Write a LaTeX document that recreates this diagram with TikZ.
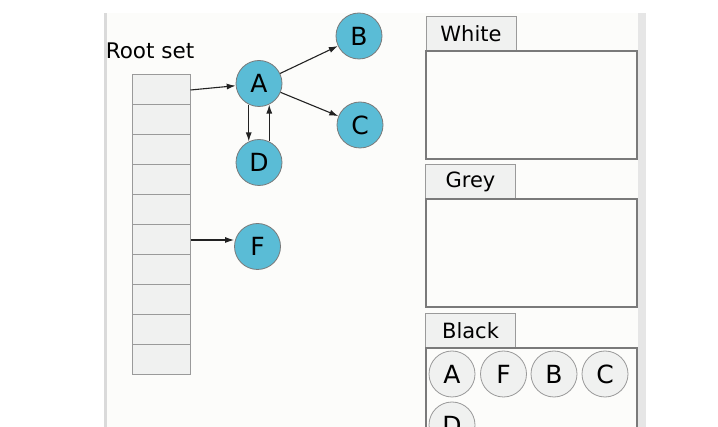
\documentclass[tikz,border=0pt]{standalone}
\usepackage{fontspec}
\setmainfont{DejaVu Sans}
\usetikzlibrary{arrows.meta}
\definecolor{nodeblue}{HTML}{5ABCD6}
\definecolor{panelbg}{HTML}{FCFCFA}
\definecolor{cellfill}{HTML}{F0F1F0}
\definecolor{cellline}{HTML}{9A9A9A}
\definecolor{boxline}{HTML}{7A7A7A}
\definecolor{leftline}{HTML}{DADADA}
\definecolor{rightbar}{HTML}{E6E6E6}
\definecolor{arrowcol}{HTML}{222222}
\tikzset{
  cell/.style={draw=cellline, fill=cellfill, line width=1pt, minimum width=58pt, minimum height=30pt, inner sep=0pt},
  objnode/.style={circle, draw=boxline, fill=nodeblue, line width=0.8pt, minimum size=46pt, inner sep=0pt, font=\fontsize{25}{30}\selectfont},
  blacknode/.style={circle, draw=cellline, fill=cellfill, line width=0.8pt, minimum size=46pt, inner sep=0pt, font=\fontsize{25}{30}\selectfont},
  tabbox/.style={draw=cellline, fill=cellfill, line width=1pt, minimum width=90pt, minimum height=34pt, inner sep=0pt, font=\fontsize{21}{25}\selectfont},
  setbox/.style={draw=boxline, fill=panelbg, line width=1.1pt, inner sep=0pt},
  arr/.style={draw=arrowcol, line width=1.1pt, -{Latex[length=9pt,width=6pt]}}
}
\begin{document}
\begin{tikzpicture}[x=1pt,y=-1pt]
\useasboundingbox (0,0) rectangle (718,427);
\fill[white] (0,0) rectangle (718,427);
\begin{scope}
\clip (104,13) rectangle (646,427);
\fill[panelbg] (104,13) rectangle (646,427);
\fill[leftline] (104,13) rectangle (106.5,427);
\fill[rightbar] (637.5,13) rectangle (646,427);

% root set
\node[font=\fontsize{21.5}{25}\selectfont, anchor=center] (rootlabel) at (150,51) {Root set};
\foreach \i in {0,...,9} {
  \node[cell] (r\i) at (161,{90+30*\i}) {};
}

% object graph
\node[objnode] (A) at (259,83.5) {A};
\node[objnode] (B) at (359,36) {B};
\node[objnode] (C) at (360,125) {C};
\node[objnode] (D) at (259,162.5) {D};
\node[objnode] (F) at (257.5,246.5) {F};

\draw[arr] (r0.east) -- (A);
\draw[arr] (r5.east) -- (r5.east -| F.west);
\draw[arr] (A) -- (B);
\draw[arr] (A) -- (C);
\draw[arr] (A.244) -- (D.116);
\draw[arr] (D.64) -- (A.296);

% sets
\node[tabbox] (whitetab) at (471,33.5) {White};
\node[setbox, minimum width=211pt, minimum height=108pt] (whitebox) at (531.5,105) {};
\node[tabbox] (greytab) at (470.5,182) {Grey};
\node[setbox, minimum width=211pt, minimum height=108pt] (greybox) at (531.5,253) {};
\node[tabbox] (blacktab) at (470.5,331) {Black};
\node[setbox, minimum width=211pt, minimum height=120pt] (blackbox) at (531.5,408) {};

\node[blacknode] (bA) at (452,374) {A};
\node[blacknode] (bF) at (503.5,374) {F};
\node[blacknode] (bB) at (554,374) {B};
\node[blacknode] (bC) at (605,374) {C};
\node[blacknode] (bD) at (452,425) {D};
\end{scope}
\end{tikzpicture}
\end{document}
